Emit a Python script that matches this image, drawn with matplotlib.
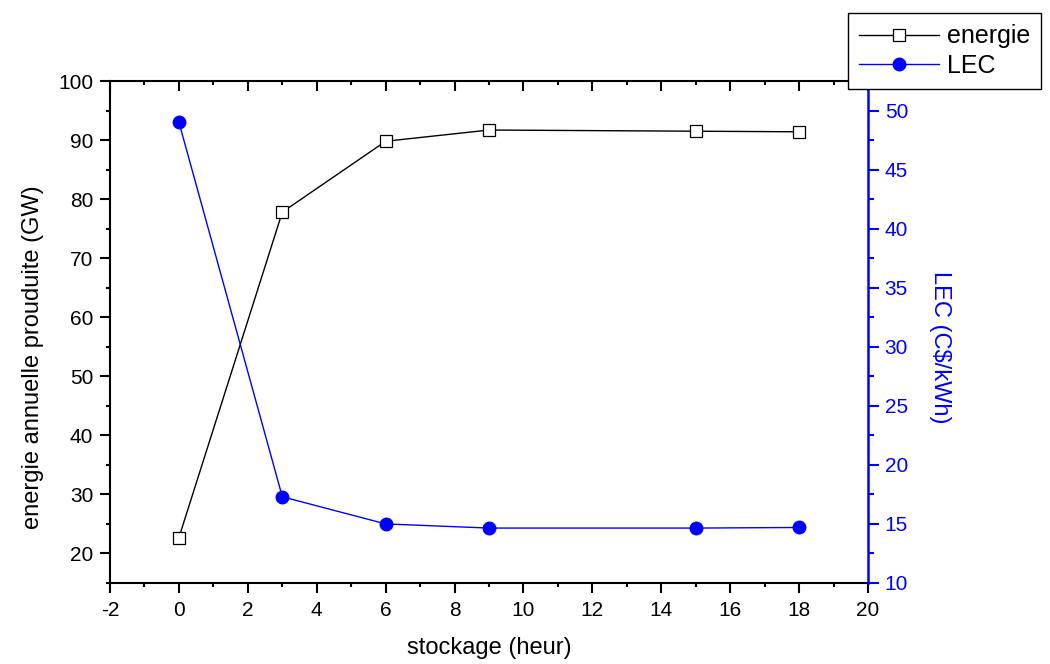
import matplotlib
matplotlib.use("Agg")
import matplotlib.pyplot as plt
from matplotlib.ticker import MultipleLocator

plt.rcParams['font.family'] = ['Liberation Sans', 'DejaVu Sans']
plt.rcParams['axes.unicode_minus'] = False

stockage = [0, 3, 6, 9, 15, 18]
energie = [22.7, 77.8, 89.8, 91.7, 91.5, 91.4]
lec = [49.0, 17.3, 15.0, 14.65, 14.65, 14.7]

fig = plt.figure(figsize=(10.5, 6.64), dpi=100)
ax = fig.add_axes([0.1048, 0.122, 0.7219, 0.756])
ax2 = ax.twinx()

l1, = ax.plot(stockage, energie, color='black', lw=1.0, marker='s', ms=8,
              mfc='white', mec='black', mew=0.9, label='energie')
l2, = ax2.plot(stockage, lec, color='blue', lw=1.0, marker='o', ms=9,
               mfc='blue', mec='blue', label='LEC')

ax.set_xlim(-2, 20)
ax.set_ylim(15, 100)
ax2.set_ylim(10, 52.5)

ax.xaxis.set_major_locator(MultipleLocator(2))
ax.xaxis.set_minor_locator(MultipleLocator(1))
ax.yaxis.set_major_locator(MultipleLocator(10))
ax.yaxis.set_minor_locator(MultipleLocator(5))
ax2.yaxis.set_major_locator(MultipleLocator(5))
ax2.yaxis.set_minor_locator(MultipleLocator(2.5))

tick_fs = 15
ax.tick_params(axis='x', which='both', direction='out', top=True, labeltop=False,
               width=1.5, labelsize=tick_fs, pad=6)
ax.tick_params(axis='x', which='major', length=7)
ax.tick_params(axis='x', which='minor', length=3)
ax.tick_params(axis='y', which='both', direction='out', width=1.5,
               labelsize=tick_fs, right=False, pad=5)
ax.tick_params(axis='y', which='major', length=7)
ax.tick_params(axis='y', which='minor', length=3)
# ticks on the top edge point into the plot
for t in ax.xaxis.get_major_ticks() + ax.xaxis.get_minor_ticks():
    t.tick2line.set_marker(matplotlib.lines.TICKDOWN)

ax2.tick_params(axis='y', which='both', direction='out', colors='blue',
                width=1.5, labelsize=tick_fs, pad=4)
ax2.tick_params(axis='y', which='major', length=8)
ax2.tick_params(axis='y', which='minor', length=4)

for s in ['left', 'bottom', 'top']:
    ax.spines[s].set_linewidth(1.5)
ax.spines['right'].set_visible(False)
ax2.spines['left'].set_visible(False)
ax2.spines['top'].set_visible(False)
ax2.spines['bottom'].set_visible(False)
ax2.spines['right'].set_color('blue')
ax2.spines['right'].set_linewidth(1.8)

label_fs = 17
ax.set_xlabel('stockage (heur)', fontsize=label_fs, va='center')
ax.xaxis.set_label_coords(0.5, -0.129)
ax.set_ylabel('energie annuelle prouduite (GW)', fontsize=label_fs, va='center')
ax.yaxis.set_label_coords(-0.1016, 0.449)
ax2.set_ylabel('LEC (C$/kWh)', fontsize=label_fs, color='blue', rotation=-90,
               va='center', ha='center')
ax2.yaxis.set_label_coords(1.095, 0.469)

leg = fig.legend(handles=[l1, l2], loc='upper left',
                 bbox_to_anchor=(848 / 1050, 1 - 13 / 664), fontsize=18,
                 frameon=True, fancybox=False, edgecolor='black', framealpha=1,
                 handlelength=3.2, borderpad=0.45, labelspacing=0.22,
                 handletextpad=0.3, borderaxespad=0)
leg.get_frame().set_linewidth(1.0)
leg.set_zorder(10)

fig.savefig('out.png', dpi=100)
